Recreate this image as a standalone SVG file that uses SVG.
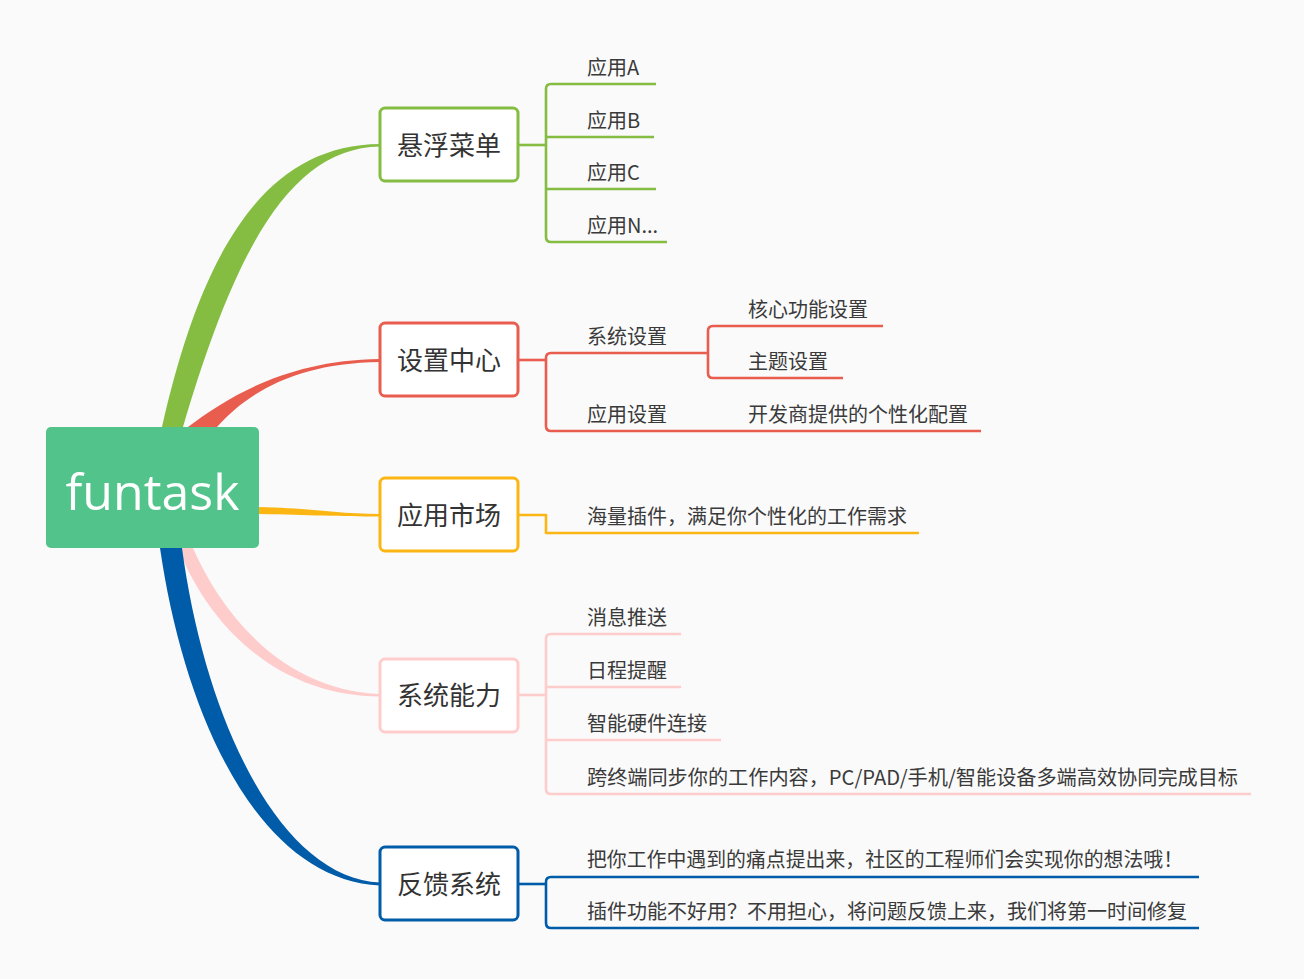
<svg xmlns="http://www.w3.org/2000/svg" width="1304" height="979" viewBox="0 0 1304 979">
<style>
.t1{font-family:"Noto Sans CJK SC","Noto Sans",sans-serif;font-size:26px;fill:#333333;text-anchor:middle}
.t2{font-family:"Noto Sans CJK SC","Noto Sans",sans-serif;font-size:20px;fill:#3a3a3a}
.ln{fill:none;stroke-width:2.6;stroke-linejoin:round}
.box{fill:#ffffff;stroke-width:3}
.g{stroke:#84bd42}.r{stroke:#e95d4f}.y{stroke:#fbb614}.p{stroke:#ffcccc}.b{stroke:#005ca8}
</style>
<rect x="0" y="0" width="1304" height="979" fill="#fafafa"/>
<g id="connectors">
  <path d="M162,427 C200,260 260,145 380,144 L380,146.5 C290,148 235,250 183,427 Z" fill="#84bd42"/>
  <path d="M188,427 C230,395 290,360 380,359 L380,362 C300,363 250,390 217,427 Z" fill="#e95d4f"/>
  <path d="M259,507 C310,508 340,514 380,514 L380,516.5 C340,516.5 310,515 259,514 Z" fill="#fbb614"/>
  <path d="M193,548 C220,610 280,690 380,694 L380,696.5 C290,696 215,640 178,548 Z" fill="#ffcccc"/>
  <path d="M160,548 C185,720 260,880 380,885.5 L380,882.5 C280,878 205,720 182,548 Z" fill="#005ca8"/>
  <g class="ln g">
    <path d="M518,145 H546"/>
    <path d="M656,84 H551 Q546,84 546,89 V237 Q546,242 551,242 H667"/>
    <path d="M546,137 H654"/>
    <path d="M546,189 H656"/>
  </g>
  <g class="ln r">
    <path d="M518,360 H546"/>
    <path d="M708,353 H551 Q546,353 546,358 V426 Q546,431 551,431 H981"/>
    <path d="M883,326 H713 Q708,326 708,331 V373 Q708,378 713,378 H843"/>
  </g>
  <g class="ln y">
    <path d="M518,515 H546 V533 H919"/>
  </g>
  <g class="ln p">
    <path d="M518,695 H546"/>
    <path d="M681,634 H551 Q546,634 546,639 V789 Q546,794 551,794 H1251"/>
    <path d="M546,687 H681"/>
    <path d="M546,740 H721"/>
  </g>
  <g class="ln b">
    <path d="M518,884 H546"/>
    <path d="M1199,877 H551 Q546,877 546,882 V923 Q546,928 551,928 H1199"/>
  </g>
</g>
<g id="root">
  <rect x="46" y="427" width="213" height="121" rx="5" fill="#52c48b"/>
  <text x="152.5" y="510" font-family="'Open Sans','Noto Sans',sans-serif" font-size="50" fill="#ffffff" text-anchor="middle" textLength="174" lengthAdjust="spacingAndGlyphs">funtask</text>
</g>
<g id="n-xuanfu">
  <rect class="box g" x="380" y="108" width="138" height="73" rx="5"/>
  <text class="t1" x="449" y="155">悬浮菜单</text>
</g>
<g id="n-appA"><text class="t2" x="587" y="75">应用A</text></g>
<g id="n-appB"><text class="t2" x="587" y="128">应用B</text></g>
<g id="n-appC"><text class="t2" x="587" y="180">应用C</text></g>
<g id="n-appN"><text class="t2" x="587" y="233">应用N...</text></g>
<g id="n-shezhi">
  <rect class="box r" x="380" y="323" width="138" height="73" rx="5"/>
  <text class="t1" x="449" y="370">设置中心</text>
</g>
<g id="n-xitongshezhi"><text class="t2" x="587" y="344">系统设置</text></g>
<g id="n-hexin"><text class="t2" x="748" y="317">核心功能设置</text></g>
<g id="n-zhuti"><text class="t2" x="748" y="369">主题设置</text></g>
<g id="n-yingyongshezhi"><text class="t2" x="587" y="422">应用设置</text></g>
<g id="n-kaifa"><text class="t2" x="748" y="422">开发商提供的个性化配置</text></g>
<g id="n-shichang">
  <rect class="box y" x="380" y="478" width="138" height="73" rx="5"/>
  <text class="t1" x="449" y="525">应用市场</text>
</g>
<g id="n-hailiang"><text class="t2" x="587" y="524">海量插件，满足你个性化的工作需求</text></g>
<g id="n-nengli">
  <rect class="box p" x="380" y="659" width="138" height="73" rx="5"/>
  <text class="t1" x="449" y="705">系统能力</text>
</g>
<g id="n-xiaoxi"><text class="t2" x="587" y="625">消息推送</text></g>
<g id="n-richeng"><text class="t2" x="587" y="678">日程提醒</text></g>
<g id="n-zhineng"><text class="t2" x="587" y="731">智能硬件连接</text></g>
<g id="n-kuazhongduan"><text class="t2" x="587" y="785" textLength="651" lengthAdjust="spacingAndGlyphs">跨终端同步你的工作内容，PC/PAD/手机/智能设备多端高效协同完成目标</text></g>
<g id="n-fankui">
  <rect class="box b" x="380" y="847" width="138" height="73" rx="5"/>
  <text class="t1" x="449" y="894">反馈系统</text>
</g>
<g id="n-ba"><text class="t2" x="587" y="867" textLength="596" lengthAdjust="spacingAndGlyphs">把你工作中遇到的痛点提出来，社区的工程师们会实现你的想法哦！</text></g>
<g id="n-chajian"><text class="t2" x="587" y="919" textLength="600" lengthAdjust="spacingAndGlyphs">插件功能不好用？不用担心，将问题反馈上来，我们将第一时间修复</text></g>
</svg>
